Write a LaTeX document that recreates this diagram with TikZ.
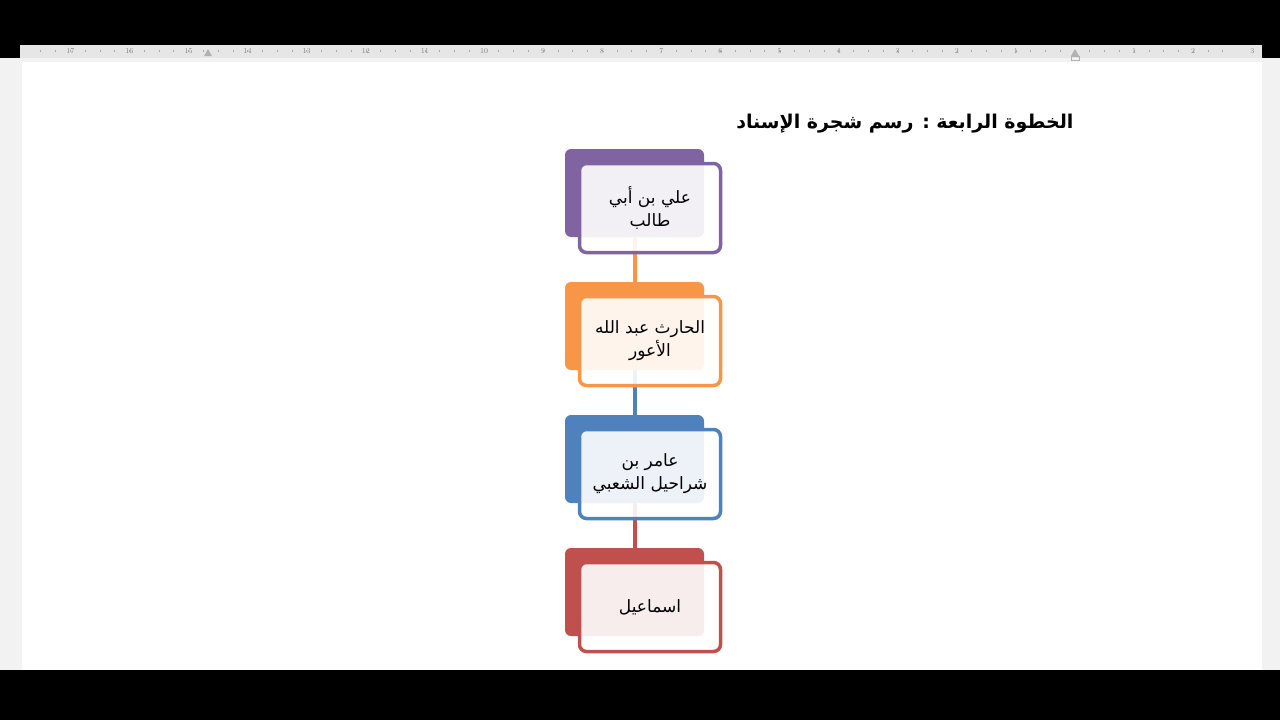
\documentclass[tikz,border=0pt]{standalone}
\usepackage{fontspec}
\usepackage{xcolor}
\usepackage{tikz}
\usetikzlibrary{positioning}
\TeXXeTstate=1
\newfontfamily\arabicfont[Script=Arabic]{DejaVu Sans}
\definecolor{purpleS}{HTML}{8064A2}
\definecolor{orangeS}{HTML}{F79646}
\definecolor{blueS}{HTML}{4F81BD}
\definecolor{redS}{HTML}{C0504D}
\definecolor{rulergray}{HTML}{E6E6E6}
\definecolor{sidegray}{HTML}{F2F2F2}

\begin{document}
\begin{tikzpicture} [x = 1pt, y = -1pt,
          backbox/.style = {rectangle, rounded corners = 6pt,
              minimum width = 139pt, minimum height = 88pt,
              fill = #1, draw = none
          },
          frontbox/.style = {rectangle, rounded corners = 7pt,
              minimum width = 141pt, minimum height = 89pt,
              draw = #1, line width = 3.5pt,
              fill = white, fill opacity = 0.9, text opacity = 1,
              align = center,
              font = \arabicfont\fontsize{17}{23}\selectfont
          },
          link/.style = {draw = #1, line width = 4pt}
          ]

          % Screen
          \fill[black] (0,0) rectangle (1280,720);
          \useasboundingbox (0,0) rectangle (1280,720);
          \fill[rulergray] (20,45) rectangle (1262,58);
          \fill[sidegray] (0,58) rectangle (1280,670);
          \fill[white] (22,62) rectangle (1262,670);

          % Ruler
          \foreach \n [count = \i] in {17,16,...,1} {
              \node[font = \fontsize{7.5}{7.5}\selectfont, text = gray] at ({1075 - \n*59.1}, 51) {\n};
          }
          \foreach \n in {1,2,3} {
              \node[font = \fontsize{7.5}{7.5}\selectfont, text = gray] at ({1075 + \n*59.1}, 51) {\n};
          }
          \foreach \k in {0,...,80} {
              \draw[gray!70, line width = 0.6pt] ({1075 - 17.5*59.1 + \k*14.775}, 50) -- ++(0,2);
          }
          \fill[gray!60] (204,56) -- (208,49) -- (212,56) -- cycle;
          \fill[gray!60] (1071,56) -- (1075,49) -- (1079,56) -- cycle;
          \draw[gray!60] (1071,56) rectangle (1079,60);

          % Title
          \node (title) [anchor = east] at (1077,124)
              {\arabicfont\bfseries\fontsize{19}{22}\selectfont\beginR الخطوة الرابعة : رسم شجرة الإسناد\endR};

          % Back boxes
          \node (b1) [backbox = purpleS] at (634.5,193) {};
          \node (b2) [backbox = orangeS] at (634.5,326) {};
          \node (b3) [backbox = blueS] at (634.5,459) {};
          \node (b4) [backbox = redS] at (634.5,592) {};

          % Links
          \draw[link = orangeS] (b1.south) -- (b2.north);
          \draw[link = blueS] (b2.south) -- (b3.north);
          \draw[link = redS] (b3.south) -- (b4.north);

          % Front boxes
          \node (f1) [frontbox = purpleS] at (650,208)
              {\beginR علي بن أبي\endR\\\beginR طالب\endR};
          \node (f2) [frontbox = orangeS] at (650,341)
              {\beginR الحارث عبد الله\endR\\\beginR الأعور\endR};
          \node (f3) [frontbox = blueS] at (650,474)
              {\beginR عامر بن\endR\\\beginR شراحيل الشعبي\endR};
          \node (f4) [frontbox = redS] at (650,607)
              {\beginR اسماعيل\endR};

        \end{tikzpicture}
\end{document}
